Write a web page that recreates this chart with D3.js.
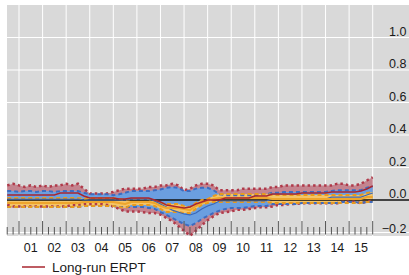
<!DOCTYPE html>
<html>
<head>
<meta charset="utf-8">
<script src="https://cdn.jsdelivr.net/npm/d3@7"></script>
<style>
  body { margin: 0; background: #fff; }
  text { font-family: "Liberation Sans", Arial, sans-serif; fill: #1a1a1a; }
</style>
</head>
<body>
<div id="chart"></div>
<script>
// quarters, placed at the end of each quarter
var quarters = [
  "2000Q2","2000Q3","2000Q4",
  "2001Q1","2001Q2","2001Q3","2001Q4","2002Q1","2002Q2","2002Q3","2002Q4",
  "2003Q1","2003Q2","2003Q3","2003Q4","2004Q1","2004Q2","2004Q3","2004Q4",
  "2005Q1","2005Q2","2005Q3","2005Q4","2006Q1","2006Q2","2006Q3","2006Q4",
  "2007Q1","2007Q2","2007Q3","2007Q4","2008Q1","2008Q2","2008Q3","2008Q4",
  "2009Q1","2009Q2","2009Q3","2009Q4","2010Q1","2010Q2","2010Q3","2010Q4",
  "2011Q1","2011Q2","2011Q3","2011Q4","2012Q1","2012Q2","2012Q3","2012Q4",
  "2013Q1","2013Q2","2013Q3","2013Q4","2014Q1","2014Q2","2014Q3","2014Q4",
  "2015Q1","2015Q2","2015Q3","2015Q4"
];

// long-run ERPT and its band (red)
var redMid = [0.031,0.031,0.031,0.031,0.031,0.031,0.031,0.031,0.031,0.043,0.043,0.043,0.043,
  0.025,0.012,0.012,0.012,0.012,0.012,0.006,0.006,0.012,0.012,0.012,0.012,0,-0.012,-0.031,-0.037,-0.043,
  -0.049,-0.043,-0.025,-0.012,0,0,0,0.012,0.012,0.012,0.012,0.012,0.025,0.025,0.025,
  0.037,0.037,0.037,0.037,0.037,0.043,0.043,0.043,0.043,0.043,0.049,0.049,0.049,0.049,0.049,0.055,0.068,0.086];
var redHigh = [0.09,0.10,0.09,0.08,0.09,0.08,0.09,0.08,0.09,0.09,
  0.10,0.09,0.10,0.07,0.04,0.04,0.04,0.04,0.05,0.06,
  0.07,0.07,0.07,0.07,0.08,0.08,0.09,0.09,0.10,0.09,
  0.06,0.07,0.09,0.10,0.10,0.09,0.06,0.06,0.06,0.06,
  0.07,0.07,0.07,0.07,0.07,0.08,0.08,0.09,0.09,0.09,
  0.09,0.09,0.09,0.09,0.09,0.09,0.10,0.10,0.09,0.09,
  0.10,0.12,0.14];
var redLow = [-0.03,-0.04,-0.04,-0.04,-0.04,-0.04,-0.04,-0.04,-0.04,-0.04,
  -0.04,-0.03,-0.03,-0.025,-0.025,-0.025,-0.025,-0.03,-0.04,-0.055,
  -0.07,-0.07,-0.07,-0.075,-0.08,-0.08,-0.09,-0.11,-0.13,-0.16,
  -0.19,-0.22,-0.19,-0.155,-0.125,-0.10,-0.08,-0.075,-0.07,-0.06,
  -0.06,-0.055,-0.05,-0.045,-0.045,-0.04,-0.03,-0.03,-0.025,-0.025,
  -0.02,-0.02,-0.02,-0.02,-0.02,-0.02,-0.02,-0.01,-0.01,-0.01,
  -0.02,-0.01,-0.005];

// blue series and band
var blueMid = [0.006,0.006,0.006,0.006,0.006,0.006,0.006,0.006,0.006,0.006,0.006,0.006,0.006,
  0,0,0,0,0,0,0,0,0.006,0.006,0.006,0.006,-0.006,-0.025,-0.043,-0.062,-0.074,
  -0.086,-0.092,-0.08,-0.055,-0.037,-0.025,-0.006,-0.006,-0.006,-0.006,-0.006,-0.006,-0.006,-0.006,-0.006,
  0.006,0.006,0.006,0.006,0.006,0.006,0.006,0.006,0.006,0.006,0.018,0.018,0.018,0.018,0.018,0.018,0.031,0.043];
var blueHigh = [0.055,0.055,0.05,0.055,0.055,0.05,0.055,0.055,0.05,0.055,0.055,0.055,0.055,
  0.045,0.035,0.035,0.035,0.035,0.03,0.035,0.045,0.055,0.055,0.055,0.055,0.06,0.065,0.075,0.08,0.075,
  0.055,0.055,0.07,0.075,0.075,0.06,0.035,0.03,0.03,0.03,0.03,0.03,0.03,0.035,0.035,
  0.045,0.045,0.05,0.05,0.05,0.05,0.05,0.05,0.05,0.05,0.055,0.06,0.06,0.06,0.06,0.06,0.075,0.085];
var blueLow = [-0.043,-0.043,-0.043,-0.043,-0.043,-0.043,-0.043,-0.043,-0.043,-0.043,-0.043,-0.043,-0.043,
  -0.037,-0.037,-0.037,-0.037,-0.037,-0.037,-0.043,-0.043,-0.043,-0.043,-0.043,-0.049,-0.055,-0.074,-0.092,-0.111,-0.13,
  -0.148,-0.16,-0.142,-0.117,-0.098,-0.08,-0.066,-0.055,-0.049,-0.049,-0.049,-0.043,-0.037,-0.037,-0.037,
  -0.025,-0.025,-0.025,-0.025,-0.025,-0.018,-0.018,-0.018,-0.018,-0.018,-0.018,-0.018,-0.012,-0.012,-0.012,-0.018,-0.012,-0.012];

// orange series and band
var orangeMid = [-0.018,-0.018,-0.018,-0.018,-0.018,-0.018,-0.018,-0.018,-0.018,-0.018,-0.018,-0.018,-0.018,
  -0.012,-0.012,-0.012,-0.012,-0.012,-0.012,-0.018,-0.025,-0.012,-0.012,-0.012,-0.012,-0.018,-0.037,-0.049,-0.049,-0.049,
  -0.055,-0.062,-0.037,-0.018,-0.006,0.006,0.012,0.012,0.012,0.012,0.012,0.012,0.012,0.012,0.012,
  0.006,0.006,0.006,0.006,0.006,0.006,0.006,0.006,0.006,0.006,0.006,0.006,0.006,0.006,0.006,0.006,0.018,0.018];
var orangeHigh = [0.012,0.012,0.012,0.012,0.012,0.012,0.012,0.012,0.012,0.012,0.012,0.012,0.012,
  0.006,0.012,0.012,0.012,0.012,0.012,0.006,0,0.006,0.006,0.006,0.006,-0.006,-0.018,-0.025,-0.025,-0.025,
  -0.037,-0.043,-0.018,0,0.006,0.025,0.037,0.037,0.037,0.037,0.037,0.037,0.037,0.037,0.037,
  0.031,0.031,0.031,0.031,0.031,0.031,0.031,0.031,0.031,0.031,0.031,0.031,0.031,0.031,0.031,0.031,0.043,0.049];
var orangeLow = [-0.043,-0.043,-0.043,-0.043,-0.043,-0.043,-0.043,-0.043,-0.043,-0.043,-0.043,-0.043,-0.043,
  -0.037,-0.037,-0.037,-0.037,-0.037,-0.037,-0.043,-0.049,-0.031,-0.031,-0.031,-0.031,-0.037,-0.055,-0.074,-0.074,-0.074,
  -0.08,-0.08,-0.055,-0.031,-0.018,-0.012,-0.012,-0.012,-0.012,-0.012,-0.012,-0.012,-0.012,-0.012,-0.012,
  -0.018,-0.018,-0.018,-0.018,-0.018,-0.018,-0.018,-0.018,-0.018,-0.018,-0.018,-0.018,-0.018,-0.018,-0.018,-0.018,-0.012,-0.012];

var yearLabels = ["01","02","03","04","05","06","07","08","09","10","11","12","13","14","15"];
var yTicks = [-0.2, 0.0, 0.2, 0.4, 0.6, 0.8, 1.0];

var width = 409, height = 275;
var plot = {left: 7, top: 5, right: 409, bottom: 236};

function qTime(q) {
  return +q.slice(0, 4) + (+q.slice(5)) / 4;
}

var rows = quarters.map(function (q, i) {
  return {
    t: qTime(q),
    rm: redMid[i], rh: redHigh[i], rl: redLow[i],
    bm: blueMid[i], bh: blueHigh[i], bl: blueLow[i],
    om: orangeMid[i], oh: orangeHigh[i], ol: orangeLow[i]
  };
});

var x = d3.scaleLinear().domain([2001, 2016]).range([19, 372.7]);
var y = d3.scaleLinear().domain([-0.2, 1.0]).range([232.5, 37.5]);

var svg = d3.select('#chart')
  .append('svg')
  .attr('width', width)
  .attr('height', height);

svg.append('rect')
  .attr('x', plot.left).attr('y', plot.top)
  .attr('width', plot.right - plot.left)
  .attr('height', plot.bottom - plot.top)
  .attr('fill', '#d9d9d9');

// grid
svg.append('g').selectAll('line').data(d3.range(2001, 2017))
  .enter().append('line')
  .attr('x1', function (d) { return x(d); })
  .attr('x2', function (d) { return x(d); })
  .attr('y1', plot.top).attr('y2', plot.bottom)
  .attr('stroke', '#fff').attr('stroke-width', 1);

svg.append('g').selectAll('line').data(yTicks.filter(function (d) { return d !== 0; }))
  .enter().append('line')
  .attr('x1', plot.left).attr('x2', plot.right)
  .attr('y1', function (d) { return y(d); })
  .attr('y2', function (d) { return y(d); })
  .attr('stroke', '#fff').attr('stroke-width', 1);

function band(lo, hi) {
  return d3.area()
    .x(function (d) { return x(d.t); })
    .y0(function (d) { return y(d[lo]); })
    .y1(function (d) { return y(d[hi]); });
}
function line(k) {
  return d3.line()
    .x(function (d) { return x(d.t); })
    .y(function (d) { return y(d[k]); });
}

svg.append('path').datum(rows).attr('d', band('rl', 'rh')).attr('fill', '#c4848f');
svg.append('path').datum(rows).attr('d', band('bl', 'bh')).attr('fill', '#6b9fe0');
svg.append('path').datum(rows).attr('d', band('ol', 'oh')).attr('fill', '#f3c468');

// zero line
svg.append('line')
  .attr('x1', plot.left).attr('x2', plot.right)
  .attr('y1', y(0)).attr('y2', y(0))
  .attr('stroke', '#111').attr('stroke-width', 1.5);

var lines = [
  {k: 'rh', c: '#b03a4a', w: 2.5, dash: '2.5,3'},
  {k: 'rl', c: '#b03a4a', w: 2.5, dash: '2.5,3'},
  {k: 'bh', c: '#3d6cc0', w: 2, dash: '4,3'},
  {k: 'bl', c: '#3d6cc0', w: 2, dash: '4,3'},
  {k: 'oh', c: '#e89a1e', w: 2, dash: '4,3'},
  {k: 'ol', c: '#e89a1e', w: 2, dash: '4,3'},
  {k: 'bm', c: '#3a68b8', w: 1.2, dash: null},
  {k: 'om', c: '#eea52c', w: 2, dash: null},
  {k: 'rm', c: '#a8262f', w: 1.5, dash: null}
];
lines.forEach(function (l) {
  svg.append('path').datum(rows)
    .attr('d', line(l.k))
    .attr('fill', 'none')
    .attr('stroke', l.c)
    .attr('stroke-width', l.w)
    .attr('stroke-dasharray', l.dash);
});

// bottom ticks: quarters, tall at year starts
var tickTimes = d3.range(0, 63).map(function (i) { return 2000.5 + i * 0.25; });
svg.append('g').selectAll('line').data(tickTimes)
  .enter().append('line')
  .attr('x1', function (d) { return x(d); })
  .attr('x2', function (d) { return x(d); })
  .attr('y1', function (d) { return d % 1 === 0 ? 221 : 227; })
  .attr('y2', 234.5)
  .attr('stroke', '#555').attr('stroke-width', 1);

// right axis labels
svg.append('g').selectAll('text').data(yTicks)
  .enter().append('text')
  .attr('x', 406.5)
  .attr('y', function (d) { return d < 0 ? 233 : y(d) - 2; })
  .attr('text-anchor', 'end')
  .attr('font-size', '12.5px')
  .text(function (d) { return d < 0 ? '\u22120.2' : d.toFixed(1); });

// year labels
svg.append('g').selectAll('text').data(yearLabels)
  .enter().append('text')
  .attr('x', function (d, i) { return x(2001 + i + 0.5); })
  .attr('y', 252)
  .attr('text-anchor', 'middle')
  .attr('font-size', '12.5px')
  .text(function (d) { return d; });

// legend
svg.append('line')
  .attr('x1', 22).attr('x2', 45).attr('y1', 267).attr('y2', 267)
  .attr('stroke', '#a8262f').attr('stroke-width', 1.5);
svg.append('text')
  .attr('x', 52).attr('y', 271.5)
  .attr('font-size', '13.5px')
  .text('Long-run ERPT');
</script>
</body>
</html>
